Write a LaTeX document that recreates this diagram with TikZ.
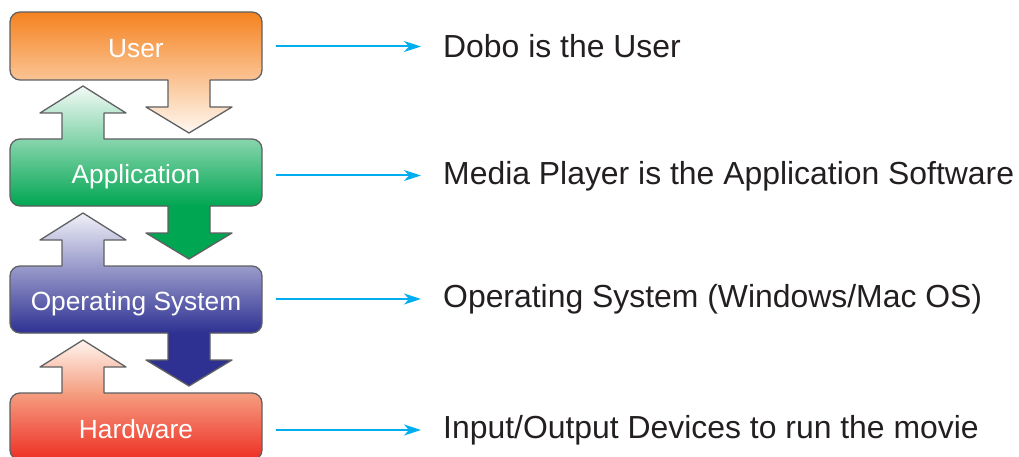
\documentclass[tikz,border=0pt]{standalone}
\usepackage{fontspec}
\setmainfont{Liberation Sans}
\usetikzlibrary{arrows.meta}
\definecolor{olcol}{HTML}{5F6062}
\definecolor{lblcol}{HTML}{231F20}
\definecolor{cyanc}{HTML}{00AEEF}
\definecolor{uTop}{HTML}{F5821F}
\definecolor{uTip}{HTML}{FFF8F1}
\definecolor{aTip}{HTML}{F3FAF6}
\definecolor{aBot}{HTML}{00A651}
\definecolor{oTip}{HTML}{F0F0F8}
\definecolor{oBot}{HTML}{2E3192}
\definecolor{hTip}{HTML}{FFF4EE}
\definecolor{hMid}{HTML}{F59E80}
\definecolor{hBot}{HTML}{EE2E24}
\newcommand\upA[1]{-- (62,-#1) -- (62,-#1+26) -- (40,-#1+26) -- (83,-#1+53) -- (126,-#1+26) -- (104,-#1+26) -- (104,-#1)}
\newcommand\dnA[1]{-- (210,-#1) -- (210,-#1-27) -- (232,-#1-27) -- (189,-#1-53) -- (146,-#1-27) -- (168,-#1-27) -- (168,-#1)}
\newcommand\blk[4]{(20,-#1) #3 -- (252,-#1) arc(90:0:10pt) -- (262,-#2+10) arc(0:-90:10pt) #4 -- (20,-#2) arc(270:180:10pt) -- (10,-#1-10) arc(180:90:10pt) -- cycle}
\begin{document}
\begin{tikzpicture}[x=1pt,y=1pt,
  outl/.style={draw=olcol, line width=1.3pt, line join=round},
  boxtxt/.style={text=white, font=\fontsize{26.3}{30}\selectfont, anchor=base, inner sep=0pt},
  lbl/.style={text=lblcol, font=\fontsize{31.9}{36}\selectfont, anchor=base west, inner sep=0pt},
  conn/.style={draw=cyanc, line width=2pt, -{Stealth[length=17pt,width=11pt,inset=5pt]}, shorten >=22pt}]
\useasboundingbox (0,0) rectangle (1019,-457);
% User
\begin{scope}
\clip \blk{12}{80}{}{\dnA{80}};
\shade[top color=uTop,bottom color=uTip] (0,-12) rectangle (270,-133);
\end{scope}
\draw[outl] \blk{12}{80}{}{\dnA{80}};
% Application
\begin{scope}
\clip \blk{139}{206}{\upA{139}}{\dnA{206}};
\shade[top color=aTip,bottom color=aBot] (0,-86) rectangle (270,-206);
\fill[aBot] (0,-205.5) rectangle (270,-262);
\end{scope}
\draw[outl] \blk{139}{206}{\upA{139}}{\dnA{206}};
% Operating System
\begin{scope}
\clip \blk{266}{333}{\upA{266}}{\dnA{333}};
\shade[top color=oTip,bottom color=oBot] (0,-213) rectangle (270,-333);
\fill[oBot] (0,-332.5) rectangle (270,-390);
\end{scope}
\draw[outl] \blk{266}{333}{\upA{266}}{\dnA{333}};
% Hardware
\begin{scope}
\clip \blk{393}{460}{\upA{393}}{};
\shade[top color=hTip,bottom color=hMid] (0,-340) rectangle (270,-393.5);
\shade[top color=hMid,bottom color=hBot] (0,-393) rectangle (270,-460);
\end{scope}
\draw[outl] \blk{393}{460}{\upA{393}}{};
% box texts
\node[boxtxt] (user) at (136,-58) {User};
\node[boxtxt] (app) at (136,-183.5) {Application};
\node[boxtxt] (os) at (136,-310) {Operating System};
\node[boxtxt] (hw) at (136,-438.3) {Hardware};
% labels
\node[lbl] (l1) at (443,-57.3) {Dobo is the User};
\node[lbl] (l2) at (443,-184.3) {Media Player is the Application Software};
\node[lbl] (l3) at (443,-307.8) {Operating System (Windows/Mac OS)};
\node[lbl] (l4) at (443,-438) {Input/Output Devices to run the movie};
% connectors
\coordinate (s1) at (276,-46.5);
\coordinate (s2) at (276,-175.5);
\coordinate (s3) at (276,-299);
\coordinate (s4) at (276,-430);
\draw[conn] (s1) -- (s1 -| l1.west);
\draw[conn] (s2) -- (s2 -| l2.west);
\draw[conn] (s3) -- (s3 -| l3.west);
\draw[conn] (s4) -- (s4 -| l4.west);
\end{tikzpicture}
\end{document}
